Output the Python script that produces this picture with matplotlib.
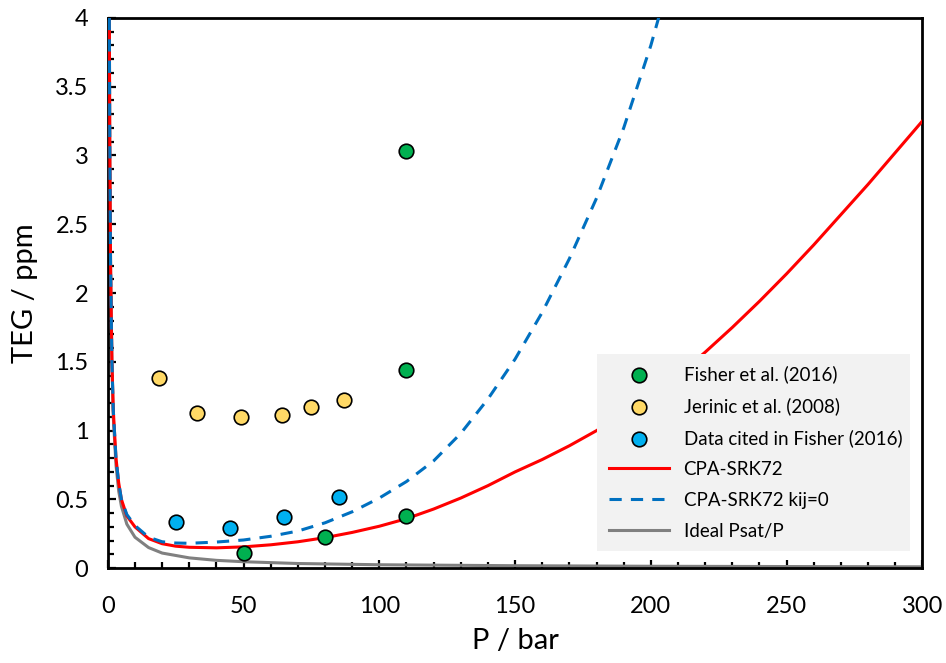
import matplotlib
matplotlib.use("Agg")
import matplotlib.pyplot as plt
from matplotlib.ticker import MultipleLocator

plt.rcParams['font.family'] = ['Lato', 'DejaVu Sans']

# experimental data
fisher_p = [50, 80, 110, 110, 110]
fisher_teg = [0.11, 0.23, 0.38, 1.44, 3.03]

jerinic_p = [19, 33, 49, 64, 75, 87]
jerinic_teg = [1.38, 1.13, 1.10, 1.11, 1.17, 1.22]

cited_p = [25, 45, 65, 85]
cited_teg = [0.335, 0.29, 0.375, 0.52]

# model curves
cpa_p = [0.55, 0.7, 1, 1.5, 2, 3, 4, 5, 7, 10, 15, 20, 25, 30, 40, 50, 60, 70, 80, 90,
         100, 110, 120, 130, 140, 150, 160, 170, 180, 190, 200, 210, 220, 230,
         240, 250, 260, 270, 280, 290, 300]
cpa_teg = [4.0, 3.1, 2.2, 1.5, 1.15, 0.8, 0.62, 0.5, 0.38, 0.30, 0.215, 0.178, 0.160,
           0.152, 0.148, 0.155, 0.17, 0.192, 0.222, 0.26, 0.305, 0.36, 0.43, 0.51,
           0.60, 0.70, 0.79, 0.89, 1.00, 1.12, 1.25, 1.40, 1.57, 1.75, 1.94, 2.14,
           2.35, 2.57, 2.79, 3.02, 3.25]

kij0_p = [0.55, 0.7, 1, 1.5, 2, 3, 4, 5, 7, 10, 15, 20, 25, 30, 40, 50, 60, 70, 80, 90,
          100, 110, 120, 130, 140, 150, 160, 170, 180, 190, 200, 205]
kij0_teg = [4.0, 3.1, 2.2, 1.5, 1.15, 0.8, 0.62, 0.5, 0.39, 0.31, 0.225, 0.192, 0.183,
            0.181, 0.19, 0.205, 0.232, 0.27, 0.33, 0.41, 0.51, 0.63, 0.78, 0.98,
            1.23, 1.52, 1.86, 2.25, 2.69, 3.20, 3.80, 4.15]

ideal_p = [0.55, 0.7, 1, 1.5, 2, 3, 4, 5, 7, 10, 15, 20, 30, 40, 50, 70, 100, 150, 200, 300]
ideal_teg = [3.9, 3.1, 2.2, 1.5, 1.1, 0.75, 0.56, 0.45, 0.32, 0.225, 0.15, 0.11,
             0.075, 0.057, 0.047, 0.034, 0.025, 0.018, 0.014, 0.01]

fig = plt.figure(figsize=(9.46, 6.63), dpi=100)
ax = fig.add_axes([0.114, 0.143, 0.861, 0.830])

ax.scatter(fisher_p, fisher_teg, s=110, c='#00B050', edgecolors='black', linewidths=1.2,
           zorder=5, label='Fisher et al. (2016)')
ax.scatter(jerinic_p, jerinic_teg, s=110, c='#FFD966', edgecolors='black', linewidths=1.2,
           zorder=5, label='Jerinic et al. (2008)')
ax.scatter(cited_p, cited_teg, s=110, c='#00B0F0', edgecolors='black', linewidths=1.2,
           zorder=5, label='Data cited in Fisher (2016)')
ax.plot(cpa_p, cpa_teg, color='#FF0000', lw=2.2, label='CPA-SRK72', zorder=3)
ax.plot(kij0_p, kij0_teg, color='#0070C0', lw=2.2, ls=(0, (4, 3)),
        label='CPA-SRK72 kij=0', zorder=3)
ax.plot(ideal_p, ideal_teg, color='#808080', lw=2.2, label='Ideal Psat/P', zorder=2)

ax.set_xlim(0, 300)
ax.set_ylim(0, 4)
ax.xaxis.set_major_locator(MultipleLocator(50))
ax.xaxis.set_minor_locator(MultipleLocator(10))
ax.yaxis.set_major_locator(MultipleLocator(0.5))
ax.yaxis.set_minor_locator(MultipleLocator(0.1))
ax.yaxis.set_major_formatter(plt.FuncFormatter(lambda v, p: ('%g' % v)))

ax.tick_params(which='both', direction='in', top=False, right=False, width=1.6)
ax.tick_params(which='major', length=6, labelsize=17)
ax.tick_params(which='minor', length=4)
ax.tick_params(axis='x', which='major', pad=20)
ax.tick_params(axis='y', which='major', pad=14)
for sp in ax.spines.values():
    sp.set_linewidth(2)

ax.set_xlabel('P / bar', fontsize=21, labelpad=8)
ax.set_ylabel('TEG / ppm', fontsize=21, labelpad=12)

leg = ax.legend(loc='lower left', bbox_to_anchor=(0.601, 0.031, 0.384, 0.345),
                mode='expand', fontsize=13.5, frameon=True, fancybox=False,
                borderaxespad=0, handlelength=3.2, labelspacing=0.75,
                borderpad=0.6)
leg.get_frame().set_facecolor('#F2F2F2')
leg.get_frame().set_edgecolor('none')
leg.get_frame().set_alpha(1)

fig.savefig('out.png', dpi=100)
